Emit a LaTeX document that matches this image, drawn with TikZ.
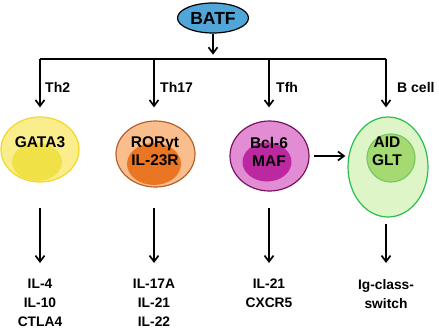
\documentclass[tikz,border=0pt]{standalone}
\usepackage{fontspec}
\setmainfont{Liberation Sans}
\usepackage{tikz}
\usetikzlibrary{arrows.meta,shapes.geometric}

\definecolor{batfblue}{RGB}{80,166,216}
\definecolor{gataout}{RGB}{250,238,140}
\definecolor{gataline}{RGB}{244,214,40}
\definecolor{gatain}{RGB}{240,226,70}
\definecolor{rorout}{RGB}{250,190,140}
\definecolor{rorline}{RGB}{180,95,45}
\definecolor{rorin}{RGB}{234,118,36}
\definecolor{bclout}{RGB}{226,140,212}
\definecolor{bclline}{RGB}{120,20,95}
\definecolor{bclin}{RGB}{188,40,160}
\definecolor{aidout}{RGB}{222,245,200}
\definecolor{aidline}{RGB}{40,190,80}
\definecolor{aidin}{RGB}{165,218,115}
\definecolor{aidinline}{RGB}{120,200,100}

\tikzset{
 cell/.style={ellipse,inner sep=0pt,line width=1.2pt},
 lab/.style={font=\bfseries\fontsize{14}{18}\selectfont,align=center,inner sep=0pt},
 celltxt/.style={font=\bfseries\fontsize{15.5}{18}\selectfont,align=center,inner sep=0pt},
 outtxt/.style={font=\bfseries\fontsize{13.8}{19}\selectfont,align=center,inner sep=0pt,anchor=north},
 arr/.style={-{Straight Barb[length=6pt,width=9pt]},line width=1.7pt}
}

\begin{document}
\begin{tikzpicture}[x=1pt,y=-1pt]
 \useasboundingbox (0,0) rectangle (439,329);
 % BATF and the branching bus
 \node[cell,draw,fill=batfblue,minimum width=71pt,minimum height=30pt,
  font=\bfseries\fontsize{17.5}{18}\selectfont] (batf) at (213,18) {BATF};
 \coordinate (bus) at (213,58.7);
 \coordinate (t1) at (40,58.7);
 \coordinate (t2) at (154,58.7);
 \coordinate (t3) at (269,58.7);
 \coordinate (t4) at (386,58.7);
 \draw[arr,shorten >=4pt] (batf) -- (bus);
 \draw[line width=1.7pt] (t1) -- (t4);

 % cells
 \node[cell,draw=gataline,fill=gataout,minimum width=78pt,minimum height=65pt] (gata) at (40,149.5) {};
 \node[cell,fill=gatain,minimum width=50pt,minimum height=38pt] (gatain) at (37,162) {};
 \node[celltxt] (gatatxt) at (40,142) {GATA3};

 \node[cell,draw=rorline,fill=rorout,minimum width=79pt,minimum height=66pt] (ror) at (155.5,154) {};
 \node[cell,fill=rorin,minimum width=54pt,minimum height=42pt] (rorin) at (154,164) {};
 \node[celltxt] (rortxt) at (155,151) {RORγt\\IL-23R};

 \node[cell,draw=bclline,fill=bclout,minimum width=79pt,minimum height=70pt] (bcl) at (269.5,156) {};
 \node[cell,fill=bclin,minimum width=49pt,minimum height=39pt] (bclin) at (267,162) {};
 \node[celltxt] (bcltxt) at (269,152) {Bcl-6\\MAF};

 \node[cell,draw=aidline,fill=aidout,minimum width=80pt,minimum height=100pt] (aid) at (388,167) {};
 \node[cell,draw=aidinline,fill=aidin,minimum width=48pt,minimum height=48pt] (aidin) at (391,158) {};
 \node[celltxt] (aidtxt) at (387,151) {AID\\GLT};

 % branches
 \draw[arr,shorten >=9pt] (t1) -- (t1 |- gata.north);
 \draw[arr,shorten >=13pt] (t2) -- (t2 |- ror.north);
 \draw[arr,shorten >=13pt] (t3) -- (t3 |- bcl.north);
 \draw[arr,shorten >=9pt] (t4) -- (t4 |- aid.north);
 \node[lab,anchor=west] (th2) at (45,87) {Th2};
 \node[lab,anchor=west] (th17) at (160,87) {Th17};
 \node[lab,anchor=west] (tfh) at (276,87) {Tfh};
 \node[lab,anchor=west] (bcell) at (397,87) {B cell};

 \draw[arr,shorten <=4pt,shorten >=2pt] (bcl.east) -- (bcl.east -| aid.west);

 % products
 \node[outtxt] (o1) at (40,279) {IL-4\\IL-10\\CTLA4};
 \node[outtxt] (o2) at (154,279) {IL-17A\\IL-21\\IL-22};
 \node[outtxt] (o3) at (269,279) {IL-21\\CXCR5};
 \node[outtxt] (o4) at (386,279) {Ig-class-\\switch};
 \draw[arr,shorten <=25pt,shorten >=16pt] (o1.north |- gata.south) -- (o1.north);
 \draw[arr,shorten <=20pt,shorten >=16pt] (o2.north |- ror.south) -- (o2.north);
 \draw[arr,shorten <=16pt,shorten >=16pt] (o3.north |- bcl.south) -- (o3.north);
 \draw[arr,shorten <=6pt,shorten >=16pt] (o4.north |- aid.south) -- (o4.north);
\end{tikzpicture}
\end{document}
